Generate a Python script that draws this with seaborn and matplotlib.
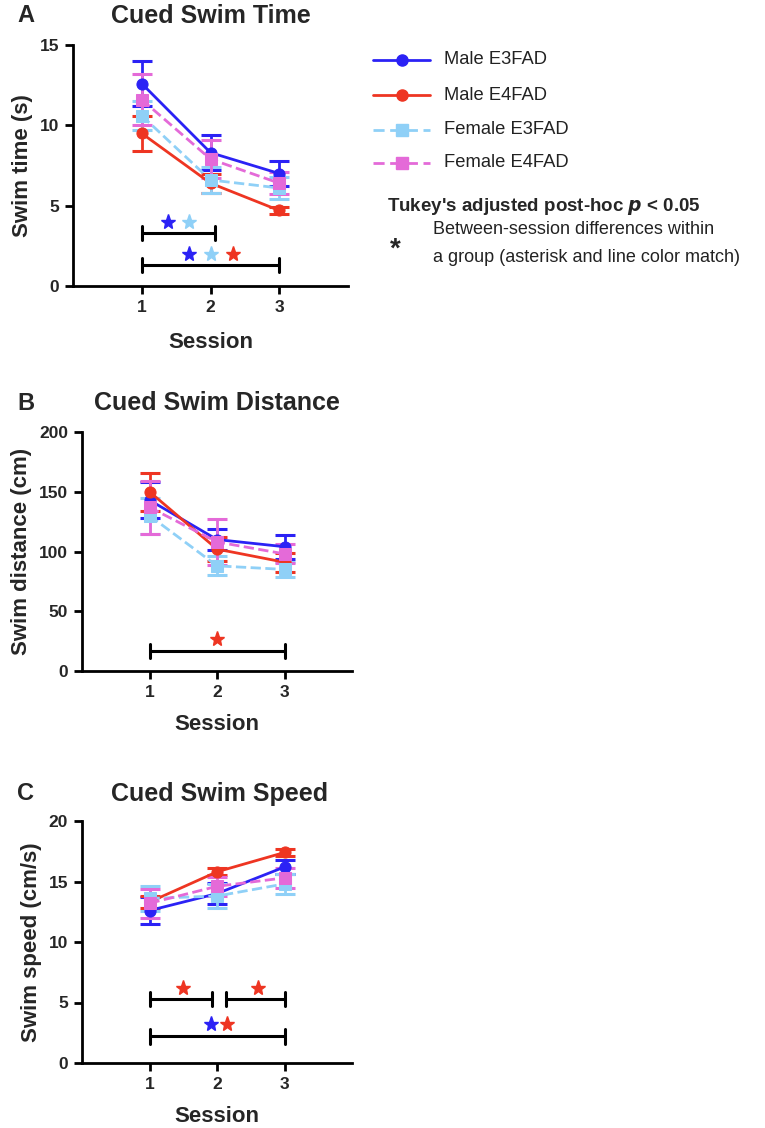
import matplotlib
matplotlib.use("Agg")
import matplotlib.pyplot as plt
import seaborn as sns
import pandas as pd
import numpy as np
from matplotlib.lines import Line2D

sns.set_theme(style="ticks")
plt.rcParams['font.family'] = ['Liberation Sans', 'DejaVu Sans']

sessions = [1, 2, 3]
groups = ["Male E3FAD", "Male E4FAD", "Female E3FAD", "Female E4FAD"]
colors = ["#2b22f5", "#ee3522", "#8fd0f7", "#e46ad8"]
markers = ["o", "o", "s", "s"]
dashed = [False, False, True, True]

# Panel A: swim time (s)
time_mean = {"Male E3FAD": [12.6, 8.3, 7.0], "Male E4FAD": [9.5, 6.4, 4.7],
             "Female E3FAD": [10.6, 6.6, 6.1], "Female E4FAD": [11.6, 7.9, 6.4]}
time_sem = {"Male E3FAD": [1.4, 1.1, 0.8], "Male E4FAD": [1.1, 0.6, 0.2],
            "Female E3FAD": [0.9, 0.8, 0.7], "Female E4FAD": [1.6, 1.2, 0.7]}
# Panel B: swim distance (cm)
dist_mean = {"Male E3FAD": [143, 110, 104], "Male E4FAD": [150, 102, 91],
             "Female E3FAD": [130, 88, 85], "Female E4FAD": [137, 108, 98]}
dist_sem = {"Male E3FAD": [15, 9, 10], "Male E4FAD": [16, 10, 8],
            "Female E3FAD": [15, 8, 6], "Female E4FAD": [22, 19, 8]}
# Panel C: swim speed (cm/s)
speed_mean = {"Male E3FAD": [12.6, 14.0, 16.2], "Male E4FAD": [13.3, 15.8, 17.4],
              "Female E3FAD": [13.6, 13.8, 14.8], "Female E4FAD": [13.2, 14.6, 15.3]}
speed_sem = {"Male E3FAD": [1.1, 0.9, 0.6], "Male E4FAD": [0.5, 0.3, 0.3],
             "Female E3FAD": [1.0, 1.0, 0.8], "Female E4FAD": [1.2, 0.8, 0.8]}

# significance brackets: (x_start, x_end, y)
sigA = [(1, 2.07, 3.3), (1, 3, 1.3)]
starsA = [(1.38, 4.0, 0), (1.69, 4.0, 2), (1.68, 2.0, 0), (2.01, 2.0, 2), (2.32, 2.0, 1)]
sigB = [(1, 3, 17)]
starsB = [(2.0, 27, 1)]
sigC = [(1, 1.93, 5.3), (2.13, 3, 5.3), (1, 3, 2.2)]
starsC = [(1.5, 6.2, 1), (2.6, 6.2, 1), (1.91, 3.2, 0), (2.15, 3.2, 1)]

W, H = 765, 1128
fig = plt.figure(figsize=(W / 100, H / 100), dpi=100)

def ax_at(l, t, r, b):
    return fig.add_axes([l / W, 1 - b / H, (r - l) / W, (b - t) / H])

def draw(ax, means, sems, ylim, yticks, ylabel, sig, stars, cap_h, xlabpad):
    rows = []
    for g in groups:
        for s, m in zip(sessions, means[g]):
            rows.append({"Session": s, "value": m, "group": g})
    df = pd.DataFrame(rows)
    for g, c, mk, d in zip(groups, colors, markers, dashed):
        sub = df[df.group == g]
        ax.errorbar(sub.Session, sub.value, yerr=sems[g], fmt="none", ecolor=c,
                    elinewidth=2, capsize=7, capthick=2.2, zorder=3)
        sns.lineplot(data=sub, x="Session", y="value", ax=ax, color=c, marker=mk,
                     markersize=8, markeredgecolor=c, linewidth=2,
                     linestyle="--" if d else "-", errorbar=None, zorder=4)
    for x0, x1, y in sig:
        ax.plot([x0, x1], [y, y], color="black", lw=2.2, zorder=5)
        for xx in (x0, x1):
            ax.plot([xx, xx], [y - cap_h, y + cap_h], color="black", lw=2.2, zorder=5)
    for x, y, ci in stars:
        ax.plot([x], [y], marker="*", color=colors[ci], markersize=11, zorder=6,
                linestyle="none")
    ax.set_xlim(0, 4)
    ax.set_ylim(*ylim)
    ax.set_xticks(sessions)
    ax.set_yticks(yticks)
    ax.set_xticklabels([str(s) for s in sessions], fontweight="bold", fontsize=12.5)
    ax.set_yticklabels([str(t) for t in yticks], fontweight="bold", fontsize=12.5)
    ax.set_xlabel("Session", fontweight="bold", fontsize=16, labelpad=xlabpad)
    ax.set_ylabel(ylabel, fontweight="bold", fontsize=16, labelpad=5)
    for sp in ("top", "right"):
        ax.spines[sp].set_visible(False)
    for sp in ("left", "bottom"):
        ax.spines[sp].set_linewidth(2)
        ax.spines[sp].set_color("black")
    ax.tick_params(width=2, length=6, color="black", pad=4)
    leg = ax.get_legend()
    if leg:
        leg.remove()

axA = ax_at(73, 45, 348, 286)
draw(axA, time_mean, time_sem, (0, 15), [0, 5, 10, 15], "Swim time (s)", sigA, starsA, 0.45, 12)
axB = ax_at(82, 432, 352, 671)
draw(axB, dist_mean, dist_sem, (0, 200), [0, 50, 100, 150, 200], "Swim distance (cm)", sigB, starsB, 6, 10)
axC = ax_at(82, 821, 352, 1063)
draw(axC, speed_mean, speed_sem, (0, 20), [0, 5, 10, 15, 20], "Swim speed (cm/s)", sigC, starsC, 0.6, 10)

def ftext(x, y, s, **kw):
    fig.text(x / W, 1 - y / H, s, **kw)

ftext(17, 16, "A", fontsize=17, fontweight="bold", va="center", ha="left")
ftext(211, 16, "Cued Swim Time", fontsize=18, fontweight="bold", va="center", ha="center")
ftext(17, 403, "B", fontsize=17, fontweight="bold", va="center", ha="left")
ftext(217, 403, "Cued Swim Distance", fontsize=18, fontweight="bold", va="center", ha="center")
ftext(17, 794, "C", fontsize=17, fontweight="bold", va="center", ha="left")
ftext(220, 794, "Cued Swim Speed", fontsize=18, fontweight="bold", va="center", ha="center")

# legend
leg_y = [60, 95, 130, 163]
for g, c, mk, d, y in zip(groups, colors, markers, dashed, leg_y):
    ln = Line2D([373 / W, 430 / W], [1 - y / H, 1 - y / H], transform=fig.transFigure,
                color=c, lw=2, linestyle="--" if d else "-", dashes=(4, 2) if d else (None, None))
    fig.add_artist(ln)
    mkr = Line2D([401.5 / W], [1 - y / H], transform=fig.transFigure, color=c,
                 marker=mk, markersize=8, linestyle="none")
    fig.add_artist(mkr)
    ftext(444, y, g, fontsize=13.2, va="center", ha="left", color="#222222")

ftext(387, 206, "Tukey's adjusted post-hoc $\\bfit{p}$ < 0.05", fontsize=13.5, fontweight="bold",
      va="center", ha="left")
ftext(395, 250, "*", fontsize=20, fontweight="bold", va="center", ha="center")
ftext(433, 229, "Between-session differences within", fontsize=13, va="center", ha="left",
      color="#222222")
ftext(433, 258, "a group (asterisk and line color match)", fontsize=13, va="center", ha="left",
      color="#222222")

fig.savefig("out.png", dpi=100)
